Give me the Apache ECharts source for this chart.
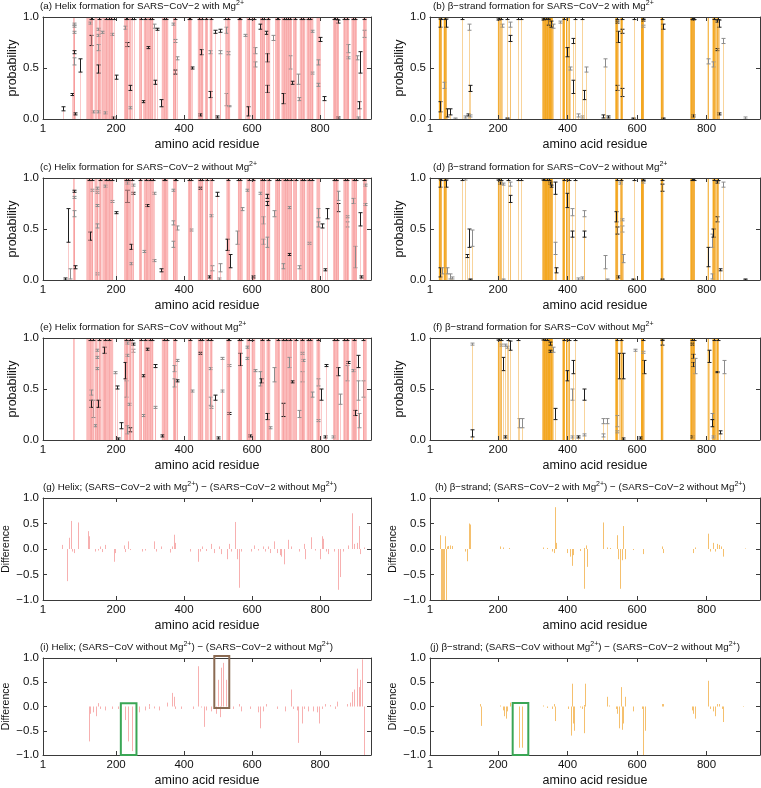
<!DOCTYPE html>
<html><head><meta charset="utf-8">
<script src="https://cdn.jsdelivr.net/npm/echarts@6/dist/echarts.min.js"></script>
<style>html,body{margin:0;padding:0;background:#fff}#c{width:761px;height:788px}</style>
</head><body><div id="c"></div>
<script>
// ---------------- DATA ----------------
const X_LEFT = [-15, 950];
const X_RIGHT = [4, 954];
const X_TICKS = [200, 400, 600, 800];
const PROB_AXIS = [0, 1, 0.5];
const DIFF_AXIS = [-1, 1, 0.5];

const titleParts = [
  ['(a) Helix formation for SARS\u2212CoV\u22122 with Mg', '2+'],
  ['(b) \u03b2\u2212strand formation for SARS\u2212CoV\u22122 with Mg', '2+'],
  ['(c) Helix formation for SARS\u2212CoV\u22122 without Mg', '2+'],
  ['(d) \u03b2\u2212strand formation for SARS\u2212CoV\u22122 without Mg', '2+'],
  ['(e) Helix formation for SARS\u2212CoV without Mg', '2+'],
  ['(f) \u03b2\u2212strand formation for SARS\u2212CoV without Mg', '2+'],
  ['(g) Helix; (SARS\u2212CoV\u22122 with Mg', '2+', ') \u2212 (SARS\u2212CoV\u22122 without Mg', '2+', ')'],
  ['(h) \u03b2\u2212strand; (SARS\u2212CoV\u22122 with Mg', '2+', ') \u2212 (SARS\u2212CoV\u22122 without Mg', '2+', ')'],
  ['(i) Helix; (SARS\u2212CoV without Mg', '2+', ') \u2212 (SARS\u2212CoV\u22122 without Mg', '2+', ')'],
  ['(j) \u03b2\u2212strand; (SARS\u2212CoV without Mg', '2+', ') \u2212 (SARS\u2212CoV\u22122 without Mg', '2+', ')']
];

// residues with (near) full helix probability
const helixBands = [[74,78],[113,132],[137,145],[149,157],[160,191],[224,235],[237,245],[268,276],[282,309],[335,353],[368,377],[412,422],[441,456],[462,470],[476,483],[525,535],[559,570],[584,594],[599,609],[624,638],[643,653],[668,682],[687,717],[721,731],[741,756],[761,780],[790,800],[839,854],[869,885],[893,908],[927,937]];
const strandBandsB = [[30,37],[44,51],[200,203],[207,209],[328,349],[350,357],[386,392],[396,399],[403,406],[538,545],[553,558],[612,619],[669,675],[754,766],[804,806],[818,826],[829,834]];
const strandBandsD = [[30,37],[44,51],[200,203],[207,209],[328,349],[350,357],[386,392],[396,399],[403,406],[538,545],[553,558],[612,619],[669,675],[754,766],[804,806],[818,826],[829,834]];
const strandBandsF = [[200,203],[207,209],[328,349],[350,357],[386,392],[396,399],[403,406],[538,545],[553,558],[612,619],[669,675],[754,766],[804,806],[818,826],[829,834]];

// near-1 error bars (residue numbers)
const topA = [125,130,150,170,178,185,195,228,232,246,252,272,285,300,305,340,348,372,414,418,445,452,466,480,520,528,562,566,590,600,605,628,634,648,672,676,695,700,706,712,726,744,750,765,772,840,845,850,872,878,898,903,930];
const topC = [120,128,152,170,180,188,230,236,248,270,288,300,310,340,345,372,376,416,420,448,452,468,482,528,560,565,592,604,630,636,650,672,680,696,702,714,728,746,752,768,776,842,846,848,874,880,900,906,928];
const topE = [122,132,150,168,180,230,242,248,272,286,300,306,340,350,372,418,446,452,470,480,528,532,562,568,592,600,630,648,676,690,700,712,728,748,764,770,795,842,850,870,880,900,925];
const topB = [35,46,96,202,208,225,256,265,332,338,344,390,420,441,541,556,590,616,672,758,764,822,832];
const topD = [35,48,96,202,208,228,256,266,332,340,346,390,404,420,542,555,590,616,672,758,764,822,832];
const topF = [202,208,228,256,334,342,390,404,420,542,555,616,672,758,764,822,832];

// error bars: [residue, low, high, dark(1)/light(0)]
const errA = [[44,0.08,0.12,1],[69,0.23,0.25,1],[76,0.92,0.94,0],[76,0.90,0.92,0],[77,0.84,0.86,0],[77,0.64,0.67,1],[76,0.53,0.60,0],[79,0.04,0.06,1],[93,0.46,0.59,1],[123,0.93,0.95,0],[126,0.72,0.82,1],[132,0.06,0.08,0],[147,0.87,0.89,0],[147,0.81,0.83,0],[148,0.67,0.73,0],[147,0.45,0.53,1],[146,0.06,0.08,0],[159,0.84,0.86,0],[167,0.05,0.07,0],[191,0.0,0.02,1],[189,0.82,0.84,0],[201,0.39,0.43,1],[227,0.88,0.91,0],[233,0.71,0.75,1],[240,0.28,0.33,1],[241,0.10,0.12,0],[279,0.16,0.18,1],[294,0.69,0.71,1],[312,0.89,0.93,0],[314,0.34,0.38,1],[321,0.87,0.89,1],[331,0.12,0.19,1],[368,0.92,0.94,0],[372,0.75,0.78,0],[373,0.44,0.48,1],[380,0.58,0.61,0],[422,0.49,0.51,1],[449,0.63,0.68,1],[448,0.03,0.05,1],[476,0.64,0.67,0],[476,0.21,0.27,1],[491,0.84,0.87,1],[496,0.01,0.03,1],[506,0.85,0.88,1],[506,0.64,0.67,0],[523,0.13,0.25,0],[522,0.84,0.90,0],[530,0.63,0.66,0],[531,0.12,0.13,0],[579,0.81,0.83,0],[589,0.03,0.12,1],[609,0.64,0.70,0],[609,0.51,0.56,0],[624,0.88,0.93,1],[643,0.56,0.64,1],[643,0.26,0.33,1],[642,0.83,0.86,1],[663,0.77,0.82,0],[692,0.15,0.25,1],[712,0.49,0.62,0],[718,0.34,0.37,1],[736,0.34,0.44,0],[739,0.18,0.21,0],[775,0.44,0.46,0],[775,0.85,0.87,0],[795,0.53,0.58,0],[795,0.32,0.35,0],[800,0.76,0.80,1],[812,0.18,0.22,1],[854,0.0,0.02,1],[852,0.94,0.97,1],[883,0.65,0.73,0],[882,0.59,0.61,0],[908,0.58,0.62,0],[915,0.10,0.17,1],[918,0.45,0.66,1],[930,0.80,0.87,0],[913,0.0,0.02,0]];
const errC = [[60,0.37,0.70,1],[65,0.01,0.11,0],[50,0.0,0.02,1],[77,0.86,0.88,1],[77,0.80,0.82,0],[77,0.62,0.68,0],[78,0.11,0.14,1],[124,0.39,0.47,1],[129,0.87,0.89,0],[143,0.05,0.07,0],[145,0.85,0.87,0],[145,0.89,0.91,0],[145,0.72,0.74,0],[145,0.51,0.55,0],[168,0.91,0.93,0],[187,0.76,0.78,0],[200,0.65,0.67,1],[231,0.76,0.88,1],[231,0.94,0.96,0],[243,0.30,0.35,1],[243,0.15,0.17,0],[251,0.84,0.86,1],[250,0.92,0.94,0],[281,0.27,0.29,0],[292,0.72,0.74,1],[312,0.84,0.86,0],[312,0.18,0.20,0],[332,0.08,0.11,1],[367,0.87,0.89,0],[367,0.54,0.58,0],[367,0.32,0.38,0],[380,0.49,0.53,0],[421,0.48,0.50,0],[447,0.89,0.91,1],[474,0.02,0.04,1],[478,0.62,0.64,0],[481,0.09,0.14,0],[496,0.82,0.86,1],[502,0.0,0.02,0],[507,0.08,0.16,0],[525,0.29,0.40,1],[535,0.12,0.25,1],[555,0.35,0.48,0],[570,0.68,0.71,0],[585,0.87,0.89,0],[604,0.02,0.04,1],[623,0.84,0.86,0],[633,0.55,0.62,0],[633,0.35,0.40,0],[643,0.80,0.84,1],[643,0.73,0.77,1],[645,0.32,0.42,0],[665,0.62,0.68,0],[692,0.11,0.16,0],[710,0.70,0.72,0],[710,0.24,0.26,1],[739,0.11,0.14,0],[767,0.35,0.37,0],[795,0.61,0.70,0],[795,0.52,0.57,0],[805,0.51,0.55,1],[815,0.09,0.11,1],[820,0.60,0.70,1],[854,0.67,0.75,1],[854,0.78,0.87,0],[878,0.52,0.57,0],[878,0.61,0.63,0],[898,0.75,0.80,0],[903,0.12,0.33,0],[918,0.53,0.66,1],[922,0.02,0.04,1],[932,0.92,0.94,0],[932,0.73,0.75,0]];
const errE = [[126,0.44,0.49,0],[126,0.32,0.39,1],[131,0.22,0.39,0],[138,0.13,0.15,0],[145,0.87,0.89,0],[145,0.80,0.82,0],[145,0.69,0.71,0],[146,0.32,0.39,1],[163,0.85,0.91,1],[197,0.65,0.67,0],[202,0.50,0.53,1],[207,0.0,0.02,1],[214,0.11,0.17,1],[226,0.60,0.76,1],[228,0.42,0.58,0],[231,0.94,0.96,0],[231,0.82,0.84,0],[233,0.06,0.14,0],[237,0.34,0.36,0],[241,0.08,0.12,1],[251,0.86,0.89,0],[251,0.93,0.95,1],[278,0.62,0.64,1],[278,0.23,0.25,0],[290,0.88,0.90,1],[315,0.71,0.74,1],[315,0.31,0.33,0],[334,0.03,0.05,1],[369,0.67,0.73,0],[369,0.52,0.60,0],[378,0.77,0.79,0],[378,0.57,0.59,1],[423,0.47,0.49,0],[447,0.84,0.86,1],[476,0.69,0.71,0],[476,0.34,0.42,0],[478,0.31,0.33,0],[491,0.39,0.44,1],[501,0.01,0.03,1],[511,0.79,0.81,0],[511,0.47,0.49,0],[533,0.72,0.74,0],[533,0.25,0.27,1],[565,0.73,0.85,1],[584,0.90,0.92,0],[584,0.79,0.81,0],[594,0.03,0.05,1],[609,0.67,0.69,0],[624,0.53,0.67,0],[626,0.56,0.60,1],[643,0.20,0.26,1],[653,0.11,0.13,0],[665,0.57,0.71,0],[692,0.23,0.36,1],[710,0.71,0.81,0],[718,0.56,0.58,1],[739,0.22,0.29,0],[746,0.57,0.67,0],[746,0.84,0.86,0],[751,0.77,0.79,0],[775,0.42,0.47,0],[795,0.53,0.60,0],[795,0.18,0.20,0],[802,0.39,0.50,1],[815,0.02,0.04,1],[818,0.72,0.74,1],[839,0.02,0.04,0],[854,0.63,0.71,1],[859,0.35,0.45,0],[878,0.58,0.73,0],[883,0.75,0.77,1],[898,0.67,0.69,0],[903,0.24,0.29,1],[913,0.71,0.83,1],[911,0.39,0.58,0],[915,0.12,0.26,0],[925,0.42,0.58,0]];
const errB = [[33,0.90,0.98,1],[33,0.07,0.17,1],[43,0.30,0.36,0],[49,0.90,0.98,1],[52,0.02,0.10,1],[62,0.04,0.10,1],[76,0.0,0.01,0],[105,0.01,0.03,0],[112,0.03,0.05,1],[117,0.87,0.93,0],[118,0.27,0.33,1],[119,0.02,0.04,0],[201,0.97,0.99,1],[210,0.90,0.93,0],[227,0.0,0.01,1],[233,0.90,0.95,0],[233,0.76,0.82,1],[330,0.97,0.99,1],[345,0.92,0.98,1],[352,0.90,0.96,1],[358,0.89,0.93,0],[378,0.94,0.96,0],[398,0.61,0.70,1],[407,0.48,0.51,0],[415,0.74,0.79,1],[416,0.25,0.38,1],[431,0.02,0.05,0],[441,0.01,0.03,0],[447,0.19,0.28,1],[453,0.46,0.51,0],[503,0.01,0.04,1],[508,0.51,0.59,0],[517,0.01,0.03,1],[543,0.94,0.96,1],[543,0.28,0.33,1],[545,0.75,0.86,1],[556,0.84,0.88,1],[556,0.22,0.30,1],[589,0.0,0.01,1],[618,0.96,0.98,1],[618,0.90,0.92,0],[676,0.88,0.93,1],[676,0.0,0.01,1],[762,0.97,0.99,1],[762,0.02,0.04,1],[805,0.54,0.59,0],[820,0.51,0.56,0],[829,0.67,0.69,1],[829,0.95,0.97,1],[837,0.90,0.97,1],[837,0.04,0.06,1],[848,0.74,0.79,0],[911,0.0,0.02,0]];
const errD = [[33,0.91,0.99,1],[33,0.03,0.12,1],[38,0.06,0.12,0],[50,0.91,0.98,1],[52,0.06,0.12,0],[62,0.01,0.06,0],[67,0.01,0.03,0],[105,0.98,1.0,0],[110,0.22,0.25,1],[117,0.32,0.50,1],[124,0.33,0.49,0],[119,0.0,0.01,1],[201,0.98,1.0,1],[206,0.94,0.96,1],[215,0.93,0.95,0],[215,0.0,0.01,0],[235,0.92,0.96,0],[235,0.76,0.83,1],[330,0.98,1.0,1],[350,0.94,0.96,1],[352,0.91,0.93,1],[364,0.84,0.96,1],[365,0.25,0.37,0],[366,0.07,0.12,1],[398,0.71,0.85,1],[412,0.63,0.70,0],[413,0.42,0.48,1],[431,0.0,0.02,0],[441,0.01,0.03,0],[447,0.62,0.68,0],[448,0.42,0.48,1],[508,0.11,0.24,0],[513,0.0,0.01,0],[540,0.57,0.67,1],[543,0.45,0.52,1],[546,0.02,0.04,1],[551,0.94,0.96,0],[556,0.47,0.53,0],[557,0.58,0.60,0],[561,0.17,0.25,0],[589,0.0,0.01,1],[618,0.97,0.99,1],[618,0.95,0.97,0],[671,0.87,0.94,1],[671,0.0,0.01,1],[762,0.98,1.0,1],[805,0.13,0.32,1],[815,0.32,0.45,0],[815,0.01,0.06,0],[820,0.42,0.50,1],[829,0.57,0.62,1],[829,0.95,0.97,1],[839,0.09,0.11,1],[848,0.91,0.96,0],[911,0.0,0.01,1]];
const errF = [[124,0.93,0.95,0],[124,0.03,0.10,1],[201,0.98,1.0,1],[208,0.92,0.94,0],[214,0.68,0.81,1],[220,0.92,0.94,0],[220,0.02,0.04,1],[225,0.90,0.92,0],[235,0.88,0.97,1],[259,0.12,0.21,0],[268,0.12,0.21,0],[330,0.98,1.0,1],[350,0.93,0.96,1],[350,0.86,0.88,1],[359,0.86,0.91,0],[364,0.20,0.31,1],[398,0.58,0.68,1],[412,0.39,0.50,0],[412,0.02,0.04,0],[417,0.65,0.78,1],[431,0.02,0.04,1],[447,0.39,0.50,1],[447,0.04,0.06,0],[503,0.16,0.21,0],[503,0.03,0.06,0],[513,0.16,0.21,0],[543,0.13,0.24,0],[543,0.07,0.09,0],[549,0.60,0.85,1],[559,0.60,0.85,1],[559,0.0,0.02,1],[594,0.87,0.89,0],[609,0.01,0.03,1],[618,0.85,0.87,0],[619,0.65,0.78,1],[671,0.93,0.98,1],[757,0.93,0.95,1],[757,0.02,0.04,1],[762,0.80,0.84,1],[762,0.72,0.76,1],[767,0.65,0.80,0],[806,0.76,0.88,1],[815,0.20,0.26,0],[816,0.13,0.20,1],[820,0.02,0.04,0],[829,0.66,0.67,1],[839,0.06,0.09,1],[849,0.65,0.78,0]];

// differences: [residue, value]
const diffG = [[40,0.08],[57,-0.63],[62,0.22],[67,0.55],[71,-0.05],[77,-0.08],[87,0.52],[117,0.35],[120,0.25],[138,-0.05],[148,-0.03],[153,0.05],[158,-0.06],[166,0.08],[193,-0.25],[198,-0.08],[222,0.07],[227,-0.06],[235,0.15],[242,-0.02],[277,-0.05],[286,-0.03],[311,0.15],[316,-0.05],[331,0.05],[360,-0.07],[365,0.05],[370,0.28],[373,0.12],[418,-0.05],[442,-0.25],[447,-0.05],[454,0.05],[464,-0.04],[479,0.10],[489,-0.08],[504,0.05],[509,-0.10],[526,-0.20],[533,0.10],[538,-0.05],[551,0.53],[555,-0.20],[561,-0.76],[568,-0.05],[598,-0.05],[607,0.07],[617,-0.03],[632,0.05],[637,-0.05],[647,0.05],[654,-0.08],[664,0.15],[672,-0.08],[681,-0.12],[686,-0.15],[693,-0.30],[707,0.18],[716,0.05],[737,-0.05],[753,0.10],[756,-0.20],[773,0.23],[785,-0.03],[800,-0.20],[805,0.25],[810,0.20],[817,-0.05],[823,-0.10],[842,-0.05],[854,-0.80],[859,-0.55],[869,-0.05],[881,0.07],[895,0.70],[901,0.10],[909,0.12],[914,0.45],[919,-0.10],[928,0.03]];
const diffH = [[33,0.27],[36,-1.0],[39,-1.0],[42,-1.0],[45,-1.0],[47,0.25],[49,-1.0],[52,0.05],[57,0.06],[62,0.07],[67,0.06],[105,-0.05],[110,-0.24],[115,0.50],[119,0.48],[206,0.05],[215,0.03],[230,0.02],[330,0.03],[340,0.02],[354,-0.05],[361,-0.08],[364,0.82],[367,0.12],[398,-0.08],[407,-0.15],[412,-0.33],[417,-0.12],[436,-0.04],[446,0.02],[447,-0.78],[453,0.07],[455,-0.35],[503,0.52],[513,0.03],[522,0.02],[541,0.27],[546,-0.20],[551,-0.78],[556,-0.22],[561,0.45],[565,-0.20],[589,-0.02],[618,-0.10],[671,0.05],[676,-0.08],[762,-0.08],[767,0.03],[805,0.30],[810,-0.05],[820,0.12],[825,-0.05],[829,0.10],[837,0.08],[841,0.05],[848,-0.15],[911,0.01]];
const diffI = [[119,-0.72],[123,-0.15],[133,-0.12],[141,-0.20],[148,0.07],[153,-0.05],[168,-0.08],[188,-0.05],[207,-0.05],[225,-0.28],[235,-0.72],[247,-0.92],[267,-0.12],[286,-0.08],[296,0.05],[298,-0.05],[311,-0.04],[326,-0.08],[351,0.08],[365,0.28],[370,0.20],[372,-0.05],[390,-0.05],[425,-0.05],[442,0.83],[449,-0.02],[459,-0.42],[464,-0.08],[479,-0.10],[494,-0.15],[501,0.55],[506,-0.22],[509,0.80],[514,0.90],[523,0.55],[543,-0.05],[563,0.05],[568,-0.10],[593,-0.05],[617,-0.12],[624,-0.45],[632,-0.10],[642,0.05],[672,-0.05],[696,-0.10],[714,0.35],[721,-0.05],[731,-0.08],[736,-0.75],[746,-0.35],[754,-0.05],[765,-0.10],[780,-0.10],[790,-0.12],[797,-0.35],[805,-0.05],[815,0.05],[830,0.03],[844,-0.05],[851,0.10],[879,0.05],[887,0.08],[894,0.30],[901,0.35],[909,0.78],[914,0.40],[918,0.55],[923,0.97],[928,-1.0]];
const diffJ = [[148,0.05],[150,-0.40],[206,0.02],[213,-0.08],[217,-0.20],[223,-0.25],[227,-0.10],[235,0.08],[259,-0.85],[268,-0.85],[330,0.02],[340,-0.03],[354,-0.05],[361,0.05],[364,-0.30],[402,-0.05],[409,-0.60],[412,0.47],[417,-0.35],[419,-0.50],[436,-0.02],[441,-0.05],[446,0.03],[447,-0.55],[450,0.47],[513,0.20],[518,0.02],[540,-0.05],[543,-0.15],[549,-0.45],[553,0.40],[556,-0.48],[561,-0.35],[565,0.20],[589,-0.10],[613,-0.05],[618,-1.0],[623,-0.50],[671,0.05],[676,0.05],[757,-0.08],[762,-0.15],[767,-0.25],[805,0.53],[810,-0.05],[820,-0.10],[825,-0.20],[829,0.05],[837,0.05],[844,-0.05],[848,-0.32],[906,0.01]];

// highlight boxes: [res0, res1, y0, y1, colour]
const boxesI = [[214,260,-1.0,0.065,'#3aa655'],[489,533,-0.03,1.04,'#8a6a52']];
const boxesJ = [[242,287,-1.0,0.07,'#3aa655']];

// ---------------- CHART ----------------
const FONT = '"Liberation Sans", Arial, sans-serif';
const TOPS = [17, 178, 338, 498, 658];
const H = 102;
const COLS = [{left:43, width:328, x:X_LEFT}, {left:430, width:330, x:X_RIGHT}];
const HELIX = {band:'#fbbaba', bar:'#f59c9c'};
const STRAND = {band:'#f4a81f', bar:'#f2b04a'};
const TITLE_LEFT = [40,433,40,433,40,433,43,435,40,430];

const mkTop = a => a.map(r => [r, 0.975, 0.997, 1]);
const panels = [
  {kind:'prob', pal:HELIX, bands:helixBands, err:errA.concat(mkTop(topA))},
  {kind:'prob', pal:STRAND, bands:strandBandsB, err:errB.concat(mkTop(topB))},
  {kind:'prob', pal:HELIX, bands:helixBands, err:errC.concat(mkTop(topC))},
  {kind:'prob', pal:STRAND, bands:strandBandsD, err:errD.concat(mkTop(topD))},
  {kind:'prob', pal:HELIX, bands:helixBands, err:errE.concat(mkTop(topE))},
  {kind:'prob', pal:STRAND, bands:strandBandsF, err:errF.concat(mkTop(topF))},
  {kind:'diff', pal:HELIX, diff:diffG},
  {kind:'diff', pal:STRAND, diff:diffH},
  {kind:'diff', pal:HELIX, diff:diffI, boxes:boxesI},
  {kind:'diff', pal:STRAND, diff:diffJ, boxes:boxesJ}
];

const fmtY = v => (v < 0 ? '\u2212' : '') + Math.abs(v).toFixed(1);
const grids = [], xAxes = [], yAxes = [], series = [], graphics = [];
const AX = '#3a3a3a';

panels.forEach((p, i) => {
  const col = COLS[i % 2], row = Math.floor(i / 2);
  grids.push({left: col.left, top: TOPS[row], width: col.width, height: H, containLabel: false});
  const xmin = col.x[0], xmax = col.x[1];
  const yr = p.kind === 'prob' ? PROB_AXIS : DIFF_AXIS;
  xAxes.push({type:'value', gridIndex:i, min:xmin, max:xmax, position:'bottom', z:5,
    axisLine:{show:true, onZero:false, lineStyle:{color:AX, width:1}},
    axisTick:{show:true, inside:true, length:4, customValues:X_TICKS, lineStyle:{color:AX}},
    axisLabel:{customValues:[xmin].concat(X_TICKS), formatter: v => (v === xmin ? '1' : String(v)), fontFamily:FONT, fontSize:11.5, color:'#111', margin:4},
    splitLine:{show:false},
    name:'amino acid residue', nameLocation:'middle', nameGap:19, nameTextStyle:{fontFamily:FONT, fontSize:12.5, color:'#111'}});
  xAxes.push({type:'value', gridIndex:i, min:xmin, max:xmax, position:'top', z:5,
    axisLine:{show:true, onZero:false, lineStyle:{color:AX, width:1}},
    axisTick:{show:true, inside:true, length:4, customValues:X_TICKS, lineStyle:{color:AX}},
    axisLabel:{show:false}, splitLine:{show:false}});
  const diff = p.kind === 'diff';
  yAxes.push({type:'value', gridIndex:i, min:yr[0], max:yr[1], interval:yr[2], position:'left', z:5,
    axisLine:{show:true, onZero:false, lineStyle:{color:AX, width:1}},
    axisTick:{show:true, inside:true, length:4, lineStyle:{color:AX}},
    axisLabel:{formatter:fmtY, fontFamily:FONT, fontSize:11.5, color:'#111', margin:4},
    splitLine:{show:false},
    name: diff ? 'Difference' : 'probability', nameLocation:'middle', nameGap: diff ? 31 : 24,
    nameTextStyle:{fontFamily:FONT, fontSize: diff ? 10.5 : 12.5, color:'#111'}});
  yAxes.push({type:'value', gridIndex:i, min:yr[0], max:yr[1], interval:yr[2], position:'right', z:5,
    axisLine:{show:true, onZero:false, lineStyle:{color:AX, width:1}},
    axisTick:{show:true, inside:true, length:4, lineStyle:{color:AX}},
    axisLabel:{show:false}, splitLine:{show:false}});
  const xi = 2 * i, yi = 2 * i;

  if (p.kind === 'prob') {
    series.push({type:'custom', xAxisIndex:xi, yAxisIndex:yi, data:p.bands, silent:true, z:1, clip:true,
      renderItem(params, api) {
        const a = api.coord([api.value(0) - 0.5, 1]);
        const b = api.coord([api.value(1) + 0.5, 0]);
        return {type:'rect', shape:{x:a[0], y:a[1], width:Math.max(1, b[0] - a[0]), height:b[1] - a[1]}, style:{fill:p.pal.band}};
      }});
    series.push({type:'custom', xAxisIndex:xi, yAxisIndex:yi, data:p.err, silent:true, z:2, clip:true,
      renderItem(params, api) {
        const r = api.value(0), lo = api.value(1), hi = api.value(2), dark = api.value(3);
        const mid = (lo + hi) / 2;
        const base = api.coord([r, 0]), m = api.coord([r, mid]);
        const pl = api.coord([r, lo]), ph = api.coord([r, hi]);
        const x = Math.round(base[0]) + 0.5;
        const c = dark ? '#1e1e1e' : '#8c8c8c';
        return {type:'group', children:[
          {type:'rect', shape:{x:x - 0.5, y:m[1], width:1, height:base[1] - m[1]}, style:{fill:p.pal.bar, opacity:0.55}},
          {type:'line', shape:{x1:x, y1:pl[1], x2:x, y2:ph[1]}, style:{stroke:c, lineWidth:1}},
          {type:'line', shape:{x1:x - 2, y1:pl[1], x2:x + 2, y2:pl[1]}, style:{stroke:c, lineWidth:1}},
          {type:'line', shape:{x1:x - 2, y1:ph[1], x2:x + 2, y2:ph[1]}, style:{stroke:c, lineWidth:1}}
        ]};
      }});
  } else {
    series.push({type:'custom', xAxisIndex:xi, yAxisIndex:yi, data:p.diff, silent:true, z:2, clip:true,
      renderItem(params, api) {
        const a = api.coord([api.value(0), 0]), b = api.coord([api.value(0), api.value(1)]);
        const x = Math.round(a[0]) + 0.5;
        return {type:'line', shape:{x1:x, y1:a[1], x2:x, y2:b[1]}, style:{stroke:p.pal.bar, lineWidth:1, opacity:0.8}};
      }});
    if (p.boxes) {
      series.push({type:'custom', xAxisIndex:xi, yAxisIndex:yi, data:p.boxes.map(b => b.slice(0, 4)), silent:true, z:6, clip:false,
        renderItem(params, api) {
          const a = api.coord([api.value(0), api.value(3)]), b = api.coord([api.value(1), api.value(2)]);
          const colr = p.boxes[params.dataIndex][4];
          return {type:'rect', shape:{x:a[0], y:a[1], width:b[0] - a[0], height:b[1] - a[1]}, style:{fill:'none', stroke:colr, lineWidth:2}};
        }});
    }
  }

  const parts = titleParts[i];
  const txt = parts.map((s, k) => (k % 2 === 0 ? '{n|' + s + '}' : '{s|' + s + '}')).join('');
  graphics.push({type:'text', left:TITLE_LEFT[i], top:TOPS[row] - 17, z:10,
    style:{text:txt, fontFamily:FONT, fill:'#111',
      rich:{n:{fontFamily:FONT, fontSize:9.8, fill:'#111', verticalAlign:'bottom'},
            s:{fontFamily:FONT, fontSize:7, fill:'#111', verticalAlign:'bottom', padding:[0,0,4.5,0]}}}});
});

const chart = echarts.init(document.getElementById('c'), null, {renderer:'canvas'});
chart.setOption({animation:false, backgroundColor:'#fff', grid:grids, xAxis:xAxes, yAxis:yAxes, series:series, graphic:graphics});
</script></body></html>
